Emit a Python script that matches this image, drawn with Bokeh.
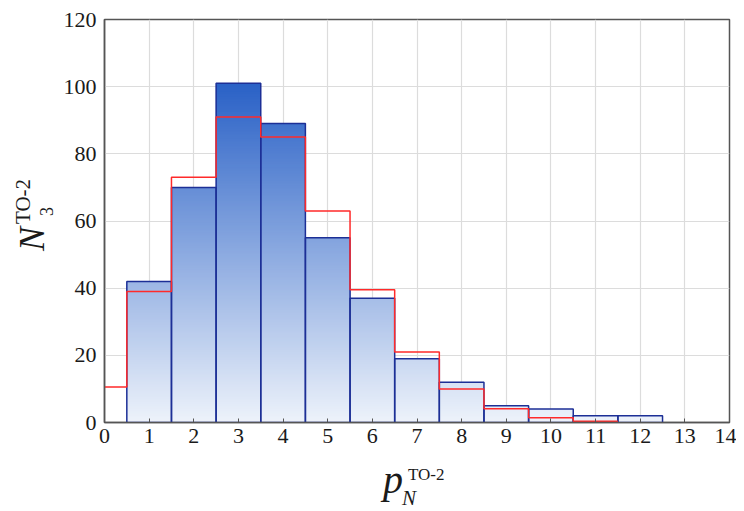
import numpy as np
from bokeh.plotting import figure
from bokeh.models import Range1d, FixedTicker, Div
from bokeh.layouts import row, column
from bokeh.embed import file_html
from bokeh.resources import INLINE

# Data: histogram (blue bars) and fitted distribution (red steps)
bin_centers = [1, 2, 3, 4, 5, 6, 7, 8, 9, 10, 11, 12]
bin_counts = [42, 70, 101, 89, 55, 37, 19, 12, 5, 4, 2, 2]

fit_centers = [0, 1, 2, 3, 4, 5, 6, 7, 8, 9, 10, 11]
fit_values = [10.6, 39, 73, 91, 85, 63, 39.5, 21, 10, 4.1, 1.4, 0.4]

x_ticks = list(range(0, 15))
y_ticks = [0, 20, 40, 60, 80, 100, 120]

FONT = "Liberation Serif"

p = figure(width=676, height=458, output_backend="svg", toolbar_location=None,
           x_range=Range1d(0, 14), y_range=Range1d(0, 120),
           min_border_left=43, min_border_right=7, min_border_top=19, min_border_bottom=36)
p.margin = 0
p.background_fill_color = "white"
p.border_fill_color = "white"
p.outline_line_color = "#555555"
p.outline_line_width = 1.5

# gradient fill for bars: nested quads drawn tallest first (painter's order)
light = np.array([238, 243, 251])
dark = np.array([40, 96, 198])
step = 0.5
L, R, B, T, C = [], [], [], [], []
for c, v in zip(bin_centers, bin_counts):
    tops = np.arange(v, 0, -step)
    for top in tops:
        t = min((top - step / 2) / 102.0, 1.0)
        t = max(t, 0.0)
        col = (light + (dark - light) * t).astype(int)
        L.append(c - 0.5); R.append(c + 0.5); B.append(0); T.append(float(top))
        C.append("#%02x%02x%02x" % tuple(col))
p.quad(left=L, right=R, bottom=B, top=T, fill_color=C, line_color=None)

# bar outlines
p.quad(left=[c - 0.5 for c in bin_centers], right=[c + 0.5 for c in bin_centers],
       bottom=0, top=bin_counts, fill_color=None, line_color="#1c2f96", line_width=1.5)

# red step line
xs, ys = [], []
for c, v in zip(fit_centers, fit_values):
    xs += [max(c - 0.5, 0), c + 0.5]
    ys += [v, v]
p.line(xs, ys, line_color="#ff2a2a", line_width=1.5)

# grid
p.xgrid.ticker = FixedTicker(ticks=x_ticks)
p.ygrid.ticker = FixedTicker(ticks=y_ticks)
p.xgrid.grid_line_color = "#dcdcdc"
p.ygrid.grid_line_color = "#dcdcdc"
p.xgrid.grid_line_width = 1.2
p.ygrid.grid_line_width = 1.2

# axes
p.xaxis.ticker = FixedTicker(ticks=x_ticks)
p.yaxis.ticker = FixedTicker(ticks=y_ticks)
for ax in (p.xaxis, p.yaxis):
    ax.axis_line_color = "#555555"
    ax.axis_line_width = 1.5
    ax.major_label_text_font = FONT
    ax.major_label_text_font_size = "22px"
    ax.major_label_text_color = "#1a1a1a"
    ax.minor_tick_line_color = None
p.xaxis.major_tick_in = 4
p.xaxis.major_tick_out = 0
p.xaxis.major_tick_line_color = "#555555"
p.xaxis.major_label_standoff = 6
p.yaxis.major_tick_in = 0
p.yaxis.major_tick_out = 0
p.yaxis.major_label_standoff = 8


def span(text, left, top, size, italic=False, rotate=False):
    st = ("position:absolute;left:%.1fpx;top:%.1fpx;font-family:'%s';font-size:%dpx;"
          "line-height:1;white-space:nowrap;color:#1a1a1a;" % (left, top, FONT, size))
    if italic:
        st += "font-style:italic;"
    if rotate:
        st += "transform:rotate(-90deg);transform-origin:0 0;"
    return '<span style="%s">%s</span>' % (st, text)


xlab_html = ('<div style="position:relative;width:676px;height:50px;">'
             + span("p", 323, 1.5, 40, italic=True)
             + span("N", 342, 29.5, 21, italic=True)
             + span("TO-2", 348, 7.5, 17)
             + '</div>')
ylab_html = ('<div style="position:relative;width:60px;height:508px;">'
             + span("N", 13.5, 251, 36, italic=True, rotate=True)
             + span("TO-2", 12.5, 224, 21, rotate=True)
             + span("3", 37.5, 216, 18, rotate=True)
             + '</div>')

xdiv = Div(text=xlab_html, width=676, height=50, margin=0)
ydiv = Div(text=ylab_html, width=60, height=508, margin=0)

layout = row(ydiv, column(p, xdiv, spacing=0, margin=0), spacing=0, margin=0)

open("out.html", "w").write(file_html(layout, INLINE))
